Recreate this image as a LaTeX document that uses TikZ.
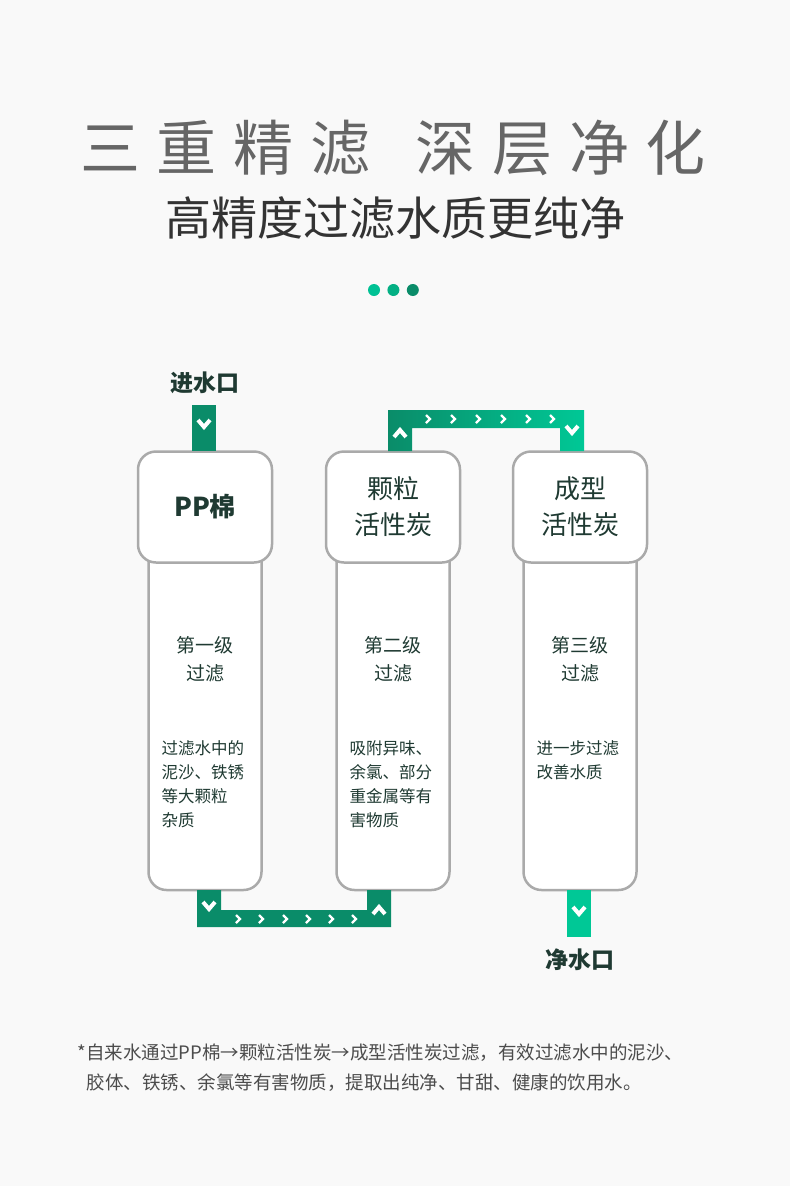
\documentclass[tikz,border=0pt]{standalone}
\usepackage{fontspec}
\setmainfont{Noto Sans CJK SC}
\usetikzlibrary{positioning}
\definecolor{pagebg}{RGB}{249,249,249}
\definecolor{darkink}{RGB}{31,58,50}
\definecolor{pipedark}{RGB}{10,140,105}
\definecolor{pipelight}{RGB}{0,200,150}
\definecolor{shellgray}{RGB}{170,170,170}
\begin{document}
\begin{tikzpicture}[
    x=1pt, y=-1pt,
    head/.style={draw=shellgray, line width=2.5pt, fill=white, rounded corners=18pt,
        minimum width=134pt, minimum height=111pt, align=center,
        font=\fontsize{26}{36}\selectfont, text=darkink},
    body/.style={draw=shellgray, line width=2.5pt, fill=white, rounded corners=18pt,
        minimum width=113pt, minimum height=350pt},
    stage/.style={font=\fontsize{19}{28}\selectfont, text=darkink, align=center},
    info/.style={font=\fontsize{16.5}{24}\selectfont, text=darkink, align=left, anchor=north west},
    port/.style={font=\bfseries\fontsize{23}{26}\selectfont, text=darkink},
    chev/.style={white, line width=4pt, line cap=butt, line join=miter},
    tick/.style={white, line width=2.4pt},
    dot/.style={circle, inner sep=0pt, minimum size=12pt}
]
\useasboundingbox[fill=pagebg] (0,0) rectangle (790,1186);

% Title
\node[text=black!60, font=\fontsize{60}{66}\selectfont] (title) at (393,148)
    {三\hspace{0.28em}重\hspace{0.28em}精\hspace{0.28em}滤\hspace{0.75em}深\hspace{0.28em}层\hspace{0.28em}净\hspace{0.28em}化};
\node[text=black!80, font=\fontsize{46}{52}\selectfont] (subtitle) at (395,218)
    {高精度过滤水质更纯净};
\node[dot, fill=pipelight!90!teal] (d1) at (374,290) {};
\node[dot, fill=pipelight!60!pipedark, right=7pt of d1] (d2) {};
\node[dot, fill=pipedark, right=7pt of d2] (d3) {};

% Filter bodies and heads
\node[body] (b1) at (205,715) {};
\node[body] (b2) at (393,715) {};
\node[body] (b3) at (580,715) {};
\node[head] (h1) at (205,507) {\bfseries PP棉};
\node[head] (h2) at (393,507) {颗粒\\活性炭};
\node[head] (h3) at (580,507) {成型\\活性炭};

% Stage texts
\node[stage] (s1) at (205,659) {第一级\\过滤};
\node[stage] (s2) at (393,659) {第二级\\过滤};
\node[stage] (s3) at (580,659) {第三级\\过滤};
\node[info] (t1) at (158,737) {过滤水中的\\泥沙、铁锈\\等大颗粒\\杂质};
\node[info] (t2) at (346,737) {吸附异味、\\余氯、部分\\重金属等有\\害物质};
\node[info] (t3) at (533,737) {进一步过滤\\改善水质};

% Inlet
\node[port] (in) at (205,383) {进水口};
\fill[pipedark] (192,405) rectangle (216,451);
\draw[chev] (198,420) -- (204,427) -- (210,420);

% Pipe 2 -> 3
\shade[left color=pipedark, right color=pipelight]
    (388,451) -- (388,410) -- (584,410) -- (584,451) -- (560,451) -- (560,428)
    -- (412,428) -- (412,451) -- cycle;
\draw[chev] (394,437) -- (400,430) -- (406,437);
\draw[chev] (566,426) -- (572,433) -- (578,426);
\foreach \x in {426,451,476,501,526,550}
    \draw[tick] (\x,415) -- (\x+4,419) -- (\x,423);

% Pipe 1 -> 2
\fill[pipedark] (197,890) -- (197,927) -- (391,927) -- (391,890) -- (367,890)
    -- (367,910) -- (221,910) -- (221,890) -- cycle;
\draw[chev] (203,902) -- (209,909) -- (215,902);
\draw[chev] (373,914) -- (379,907) -- (385,914);
\foreach \x in {236,259,283,306,329,352}
    \draw[tick] (\x,915) -- (\x+4,919) -- (\x,923);

% Outlet
\fill[pipelight] (567,890) rectangle (591,937);
\draw[chev] (573,907) -- (579,914) -- (585,907);
\node[port] (out) at (580,960) {净水口};

% Note
\node[text=black!70, font=\fontsize{18.5}{30}\selectfont, align=left, anchor=west] (note) at (74,1068)
    {*自来水通过PP棉→颗粒活性炭→成型活性炭过滤，有效过滤水中的泥沙、\\
    \hspace{0.5em}胶体、铁锈、余氯等有害物质，提取出纯净、甘甜、健康的饮用水。};
\end{tikzpicture}
\end{document}
